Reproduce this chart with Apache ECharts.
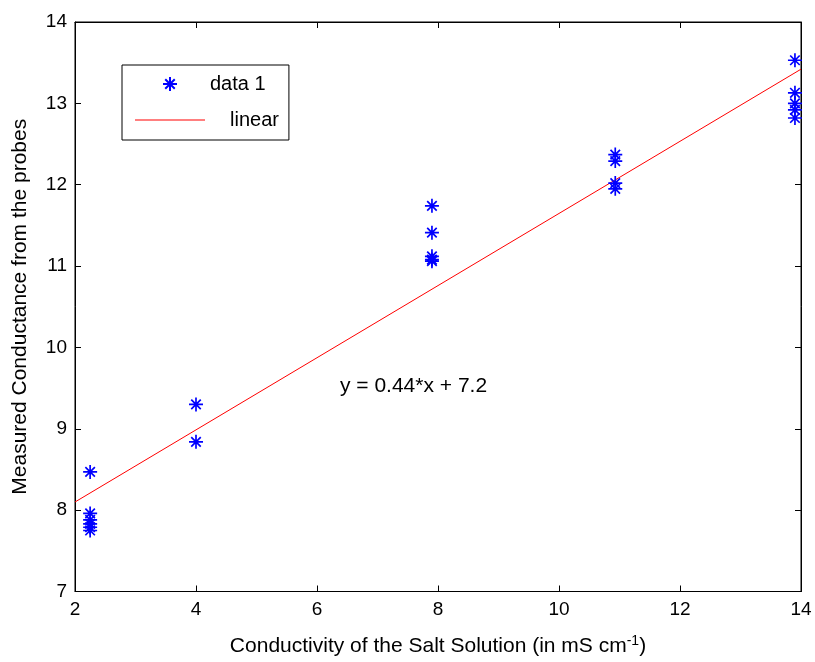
<!DOCTYPE html>
<html><head><meta charset="utf-8">
<script src="https://cdn.jsdelivr.net/npm/echarts@6/dist/echarts.min.js"></script>
<style>html,body{margin:0;padding:0;background:#fff}#c{width:815px;height:662px}</style>
</head><body><div id="c"></div>
<script>
const dataX = [2.25,2.25,2.25,2.25,2.25,2.25, 4.0,4.0, 7.9,7.9,7.9,7.9,7.9, 10.93,10.93,10.93,10.93, 13.9,13.9,13.9,13.9,13.9];
const dataY = [8.47,7.96,7.88,7.83,7.79,7.75, 9.30,8.84, 11.74,11.41,11.12,11.08,11.06, 12.37,12.29,12.02,11.95, 13.53,13.13,13.00,12.92,12.82];
const fitX = [2, 14];
const fitY = [8.1, 13.42];
const xTicks = [2,4,6,8,10,12,14];
const yTicks = [7,8,9,10,11,12,13,14];
const eqText = 'y = 0.44*x + 7.2';
const eqPos = [6.38, 9.52];

const chart = echarts.init(document.getElementById('c'));
const star = 'path://M5,0L5,10M0,5L10,5M1.6,1.6L8.4,8.4M8.4,1.6L1.6,8.4';
const font = 'Liberation Sans, Arial, sans-serif';
const FS = 19;
const TS = 21;
const tickStyle = {show:true,inside:true,length:6,lineStyle:{color:'#000'}};
chart.setOption({
  animation:false,
  backgroundColor:'#fff',
  grid:{left:75,right:14,top:22,bottom:69,show:true,borderColor:'#000',borderWidth:1},
  xAxis:[
    {type:'value',min:xTicks[0],max:xTicks[xTicks.length-1],interval:2,
     name:'{a|Conductivity of the Salt Solution (in mS cm}{s|-1}{a|)}',
     nameLocation:'middle',nameGap:43,
     nameTextStyle:{rich:{a:{fontSize:TS,fontFamily:font,color:'#000'},s:{fontSize:14,fontFamily:font,color:'#000',verticalAlign:'top',padding:[0,0,10,0]}}},
     axisLine:{show:true,onZero:false,lineStyle:{color:'#000',width:1}},axisTick:tickStyle,splitLine:{show:false},
     axisLabel:{color:'#000',fontSize:FS,fontFamily:font,margin:9}},
    {type:'value',min:2,max:14,interval:2,position:'top',axisLine:{show:true,lineStyle:{color:'#000'}},axisTick:tickStyle,axisLabel:{show:false},splitLine:{show:false}}],
  yAxis:[
    {type:'value',min:yTicks[0],max:yTicks[yTicks.length-1],interval:1,
     name:'Measured Conductance from the probes',nameLocation:'middle',nameGap:44,
     nameTextStyle:{fontSize:TS,fontFamily:font,color:'#000'},
     axisLine:{show:true,onZero:false,lineStyle:{color:'#000',width:1}},axisTick:tickStyle,splitLine:{show:false},
     axisLabel:{color:'#000',fontSize:FS,fontFamily:font,margin:8}},
    {type:'value',min:7,max:14,interval:1,position:'right',axisLine:{show:true,lineStyle:{color:'#000'}},axisTick:tickStyle,axisLabel:{show:false},splitLine:{show:false}}],
  legend:{
    left:122,top:65,orient:'vertical',
    backgroundColor:'#fff',borderColor:'#000',borderWidth:1,borderRadius:0,
    padding:[9,10,10,13],itemGap:16,itemWidth:70,itemHeight:14,
    formatter:n=>n==='linear'?'{p|}{r|'+n+'}':'{r|'+n+'}',
    textStyle:{rich:{p:{width:20,lineHeight:14},r:{fontSize:20,fontFamily:font,color:'#000',align:'left',lineHeight:14}}},
    data:[{name:'data 1'},{name:'linear',icon:'path://M0,5L70,5L70,6L0,6Z'}]
  },
  series:[
    {name:'data 1',type:'scatter',symbol:star,symbolSize:14,
     itemStyle:{color:'none',borderColor:'#0000ff',borderWidth:1.7,opacity:1},
     data:dataX.map((x,i)=>[x,dataY[i]]),z:3},
    {name:'linear',type:'line',symbol:'none',lineStyle:{color:'#ff0000',width:1},
     itemStyle:{color:'#ff0000'},data:fitX.map((x,i)=>[x,fitY[i]]),z:2},
    {name:'eq',type:'scatter',symbolSize:0,data:[eqPos],silent:true,
     itemStyle:{opacity:1},
     label:{show:true,position:'right',distance:0,formatter:eqText,fontSize:TS,fontFamily:font,color:'#000'}}
  ]
});
</script></body></html>
